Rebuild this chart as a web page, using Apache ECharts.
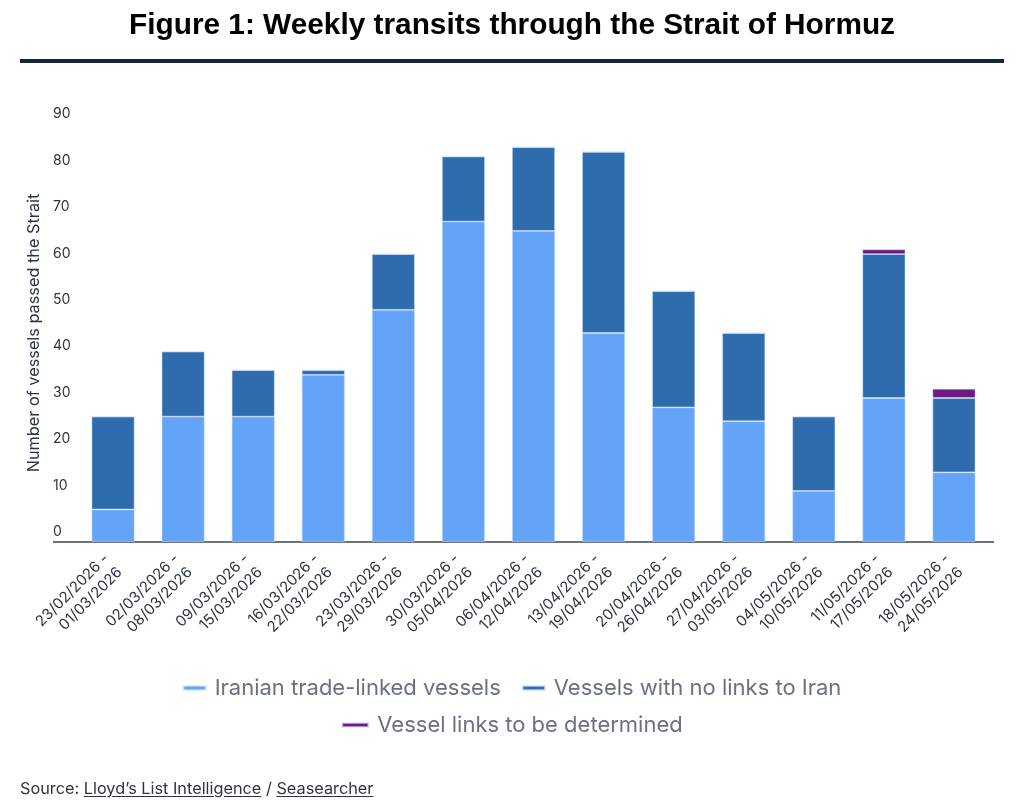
<!DOCTYPE html>
<html>
<head>
<meta charset="utf-8">
<script src="https://cdn.jsdelivr.net/npm/echarts@6/dist/echarts.min.js"></script>
<style>
   html, body { margin: 0; padding: 0; background: #ffffff; }
   #chart { width: 1024px; height: 808px; }
   #source
   {
      position: absolute; left: 20px; top: 778px;
      font-family: Inter, "Noto Sans", sans-serif; font-size: 16.3px; color: #2c3444;
   }
   #source u { text-underline-offset: 2px; }
</style>
</head>
<body>
<div id="chart"></div>
<div id="source">Source: <u>Lloyd’s List Intelligence</u> / <u>Seasearcher</u></div>
<script>

// week ranges (start - end)
const weekStart = ["23/02/2026", "02/03/2026", "09/03/2026", "16/03/2026", "23/03/2026", "30/03/2026", "06/04/2026",
                   "13/04/2026", "20/04/2026", "27/04/2026", "04/05/2026", "11/05/2026", "18/05/2026"];
const weekEnd   = ["01/03/2026", "08/03/2026", "15/03/2026", "22/03/2026", "29/03/2026", "05/04/2026", "12/04/2026",
                   "19/04/2026", "26/04/2026", "03/05/2026", "10/05/2026", "17/05/2026", "24/05/2026"];

// vessels per week
const iranLinked   = [7, 27, 27, 36, 50, 69, 67, 45, 29, 26, 11, 31, 15];
const noLinks      = [20, 14, 10, 1, 12, 14, 18, 39, 25, 19, 16, 31, 16];
const undetermined = [0, 0, 0, 0, 0, 0, 0, 0, 0, 0, 0, 1, 2];

const seriesNames = ["Iranian trade-linked vessels", "Vessels with no links to Iran", "Vessel links to be determined"];
const seriesColors = ["#64a4f8", "#2f6cad", "#6e1a80"];

const yTicks = { min: 0, max: 90, interval: 10 };


document.addEventListener('DOMContentLoaded', (event) =>
{
   const chart = echarts.init(document.getElementById("chart"), null, { renderer: 'canvas' });

   const categories = [];
   for (var i=0; i<weekStart.length; i++) categories.push(weekStart[i] + " -\n" + weekEnd[i]);

   const values = [iranLinked, noLinks, undetermined];
   const series = [];
   for (var j=0; j<3; j++)
   {
      series.push(
      {
         name: seriesNames[j],
         type: 'bar',
         stack: 'total',
         barWidth: 43,
         data: values[j],
         itemStyle: { color: seriesColors[j], borderColor: 'rgba(200,225,255,0.6)', borderWidth: 0.8 },
         emphasis: { disabled: true }
      });
   }

   const legendText = { fontFamily: 'Inter', fontSize: 22, color: '#6b7084', padding: [0, 0, 0, 4] };

   var option =
   {
      animation: false,
      title:
      {
         text: 'Figure 1: Weekly transits through the Strait of Hormuz',
         left: 'center',
         top: 6,
         textStyle: { fontFamily: '"Liberation Sans", Arial', fontWeight: 'bold', fontSize: 29.8, color: '#000000' }
      },
      legend:
      [
         { data: [seriesNames[0], seriesNames[1]], left: 'center', top: 672, icon: 'rect',
           itemWidth: 22, itemHeight: 4, itemGap: 21, textStyle: legendText },
         { data: [seriesNames[2]], left: 'center', top: 709, icon: 'rect',
           itemWidth: 26, itemHeight: 4, textStyle: legendText }
      ],
      grid: { left: 78, right: 35, top: 124, bottom: 266 },
      xAxis:
      {
         type: 'category',
         data: categories,
         axisLine: { show: false },
         axisTick: { show: false },
         axisLabel:
         {
            interval: 0, rotate: 45, margin: 21,
            fontFamily: 'Inter', fontSize: 15, lineHeight: 19, color: '#2c3444'
         }
      },
      yAxis:
      {
         type: 'value',
         min: yTicks.min, max: yTicks.max, interval: yTicks.interval,
         name: 'Number of vessels passed the Strait',
         nameLocation: 'middle',
         nameGap: 35,
         nameTextStyle: { fontFamily: 'Inter', fontSize: 16.3, color: '#2c3444' },
         axisLine: { show: false },
         axisTick: { show: false },
         splitLine: { show: false },
         axisLabel:
         {
            margin: 25, align: 'left', verticalAlign: 'bottom', padding: [0, 0, 3, 0],
            fontFamily: 'Inter', fontSize: 14, color: '#2c3444'
         }
      },
      series: series
   };

   chart.setOption(option);

   // baseline runs a little past the bars on both sides, placed at value 0
   const y0 = chart.convertToPixel({ yAxisIndex: 0 }, 0);
   chart.setOption(
   {
      graphic:
      [
         { id: 'rule', type: 'rect', shape: { x: 20, y: 59, width: 984, height: 4 }, style: { fill: '#15253b' } },
         { id: 'base', type: 'line', shape: { x1: 53, y1: y0, x2: 994, y2: y0 }, style: { stroke: '#6b7280', lineWidth: 2 } }
      ]
   });
});

</script>
</body>
</html>
